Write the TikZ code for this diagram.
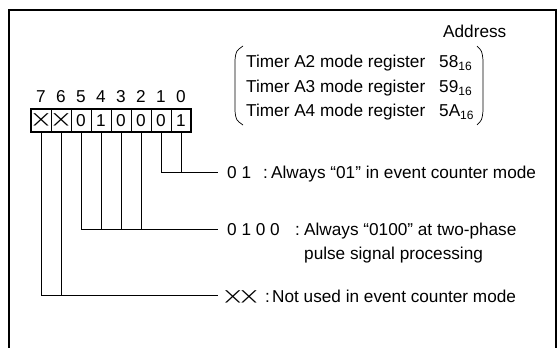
\documentclass[tikz,border=0pt]{standalone}
\usepackage{fontspec}
\setmainfont{Liberation Sans}
\newfontfamily\djv{DejaVu Sans}
\usepackage{tikz}
\usetikzlibrary{positioning}
\newcommand\crossx{\raisebox{0.164em}{\resizebox*{0.78em}{0.72em}{\djv ╳}}}

\begin{document}
\begin{tikzpicture}[
x=1pt, y=-1pt,
font=\fontsize{17.2}{20}\selectfont,
frame/.style={line width=2pt},
cell/.style={draw, line width=0.6pt, minimum width=20pt, minimum height=22.4pt, inner sep=0pt},
bitno/.style={anchor=base, inner sep=0pt},
txt/.style={anchor=base west, inner sep=0pt},
conn/.style={line width=0.8pt},
brk/.style={line width=0.7pt}
]

\useasboundingbox (0,0) rectangle (560,348);
\draw[frame] (9,348) -- (9,9.6) -- (556,9.6) -- (556,348);

\foreach \v [count=\i from 0] in {1,0,0,0,1,0,\crossx,\crossx} {
  \node[cell] (b\i) at ({181-20*\i},120.2) {\v};
  \node[bitno] (n\i) at ({181-20*\i},102.5) {\i};
}
\draw[line width=2.2pt] (b7.north west) rectangle (b0.south east);

\node[txt] (addr) at (443,37.5) {Address};
\node[txt] (t2) at (246,67.9) {Timer A2 mode register};
\node[txt] (t3) at (246,92.9) {Timer A3 mode register};
\node[txt] (t4) at (246,116.8) {Timer A4 mode register};
\node[txt] (a2) at (439,67.9) {58\textsubscript{16}};
\node[txt] (a3) at (439,92.9) {59\textsubscript{16}};
\node[txt] (a4) at (439,116.8) {5A\textsubscript{16}};
\draw[brk] (243,46) .. controls (236,51) .. (235,60) -- (235,111) .. controls (236,120) .. (243,125);
\draw[brk] (477,46) .. controls (482,51) .. (483,60) -- (483,111) .. controls (482,120) .. (477,125);

\coordinate (e1) at (218,172);
\coordinate (e2) at (218,229.6);
\coordinate (e3) at (218,295.7);

\node[txt] (c1) at (227,178.6) {0 1};
\node[txt] (k1) at (263,178.6) {:};
\node[txt] (d1) at (271,178.6) {Always “01” in event counter mode};

\node[txt] (c2) at (227,235.7) {0 1 0 0};
\node[txt] (k2) at (295,235.7) {:};
\node[txt] (d2) at (304,235.7) {Always “0100” at two-phase};
\node[txt] (d2b) at ([yshift=-23.9pt]d2.base west) {pulse signal processing};

\node[txt] (c3) at (226,302.9) {\crossx\,\crossx};
\node[txt] (k3) at (265,302.9) {:};
\node[txt] (d3) at (272,302.9) {Not used in event counter mode};

\foreach \i in {0,1} \draw[conn] (b\i.south) |- (e1);
\foreach \i in {2,...,5} \draw[conn] (b\i.south) |- (e2);
\foreach \i in {6,7} \draw[conn] (b\i.south) |- (e3);

\end{tikzpicture}
\end{document}
